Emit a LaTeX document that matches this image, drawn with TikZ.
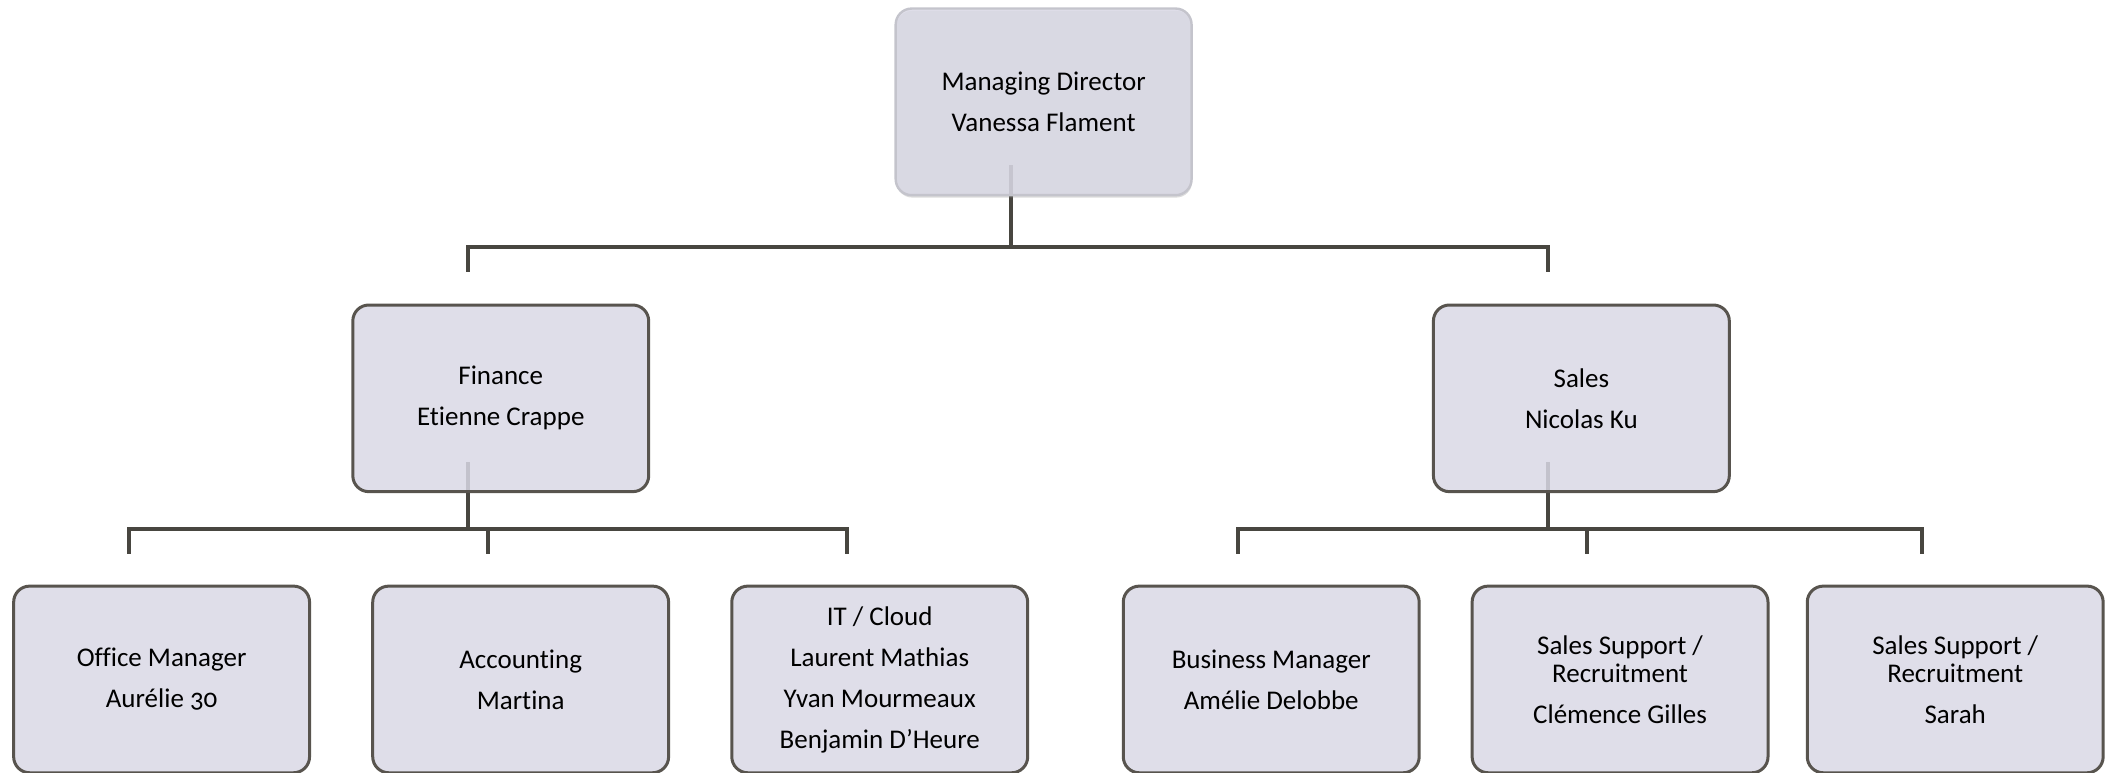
\documentclass[tikz,border=0pt]{standalone}
\usepackage{fontspec}
\setmainfont{Carlito}[Numbers=OldStyle, Ligatures=NoCommon]
\definecolor{boxfill}{RGB}{217, 216, 229}
\definecolor{boxline}{RGB}{88, 84, 78}
\definecolor{mdline}{RGB}{196, 196, 204}
\definecolor{linkgray}{RGB}{72, 70, 64}
\usetikzlibrary{positioning, calc, shadows, backgrounds}

\tikzset{
  unit/.style={draw=boxline, line width=1.5pt, fill=boxfill, fill opacity=0.85, text opacity=1,
    rounded corners=8pt, minimum width=5.2cm, minimum height=3.28cm, align=center,
    font=\fontsize{13.5}{14}\selectfont},
  topunit/.style={draw=mdline, line width=1.2pt,
    drop shadow={shadow xshift=0.3pt, shadow yshift=-1.2pt, opacity=0.3, fill=black!45}},
  link/.style={draw=linkgray, line width=2pt}
}

\begin{document}
\begin{tikzpicture}
  \useasboundingbox (0,0) rectangle (37.08,-13.584);

  % Director
  \node[unit, topunit] (md) at (18.34, -1.79) {Managing Director\\[6.5pt]Vanessa Flament};

  % Departments
  \node[unit] (fin) at (8.80, -7.0) {Finance\\[6.5pt]Etienne Crappe};
  \node[unit] (sales) at (27.79, -7.0) {Sales\\[6.5pt]Nicolas Ku};

  % Finance team
  \node[unit] (office) at (2.84, -11.94) {Office Manager\\[6.5pt]Aurélie 30};
  \node[unit] (acc) at (9.15, -11.94) {Accounting\\[6.5pt]Martina};
  \node[unit] (it) at (15.46, -11.94) {IT / Cloud\\[6.5pt]Laurent Mathias\\[6.5pt]Yvan Mourmeaux\\[6.5pt]Benjamin D’Heure};

  % Sales team
  \node[unit] (bm) at (22.34, -11.94) {Business Manager\\[6.5pt]Amélie Delobbe};
  \node[unit] (ss1) at (28.47, -11.94) {Sales Support /\\Recruitment\\[6.5pt]Clémence Gilles};
  \node[unit] (ss2) at (34.36, -11.94) {Sales Support /\\Recruitment\\[6.5pt]Sarah};

  % Connectors (behind the boxes)
  \begin{pgfonlayer}{background}
    \draw[link] ([xshift=-5.8mm, yshift=5.45mm]md.south) -- ++(0,-1.43) coordinate (mdbus);
    \foreach \dept in {fin, sales}
      \draw[link] (mdbus) -| ([xshift=-5.8mm, yshift=5.45mm]\dept.north);

    \draw[link] ([xshift=-5.8mm, yshift=5.45mm]fin.south) -- ++(0,-1.17) coordinate (finbus);
    \foreach \team in {office, acc, it}
      \draw[link] (finbus) -| ([xshift=-5.8mm, yshift=5.45mm]\team.north);

    \draw[link] ([xshift=-5.8mm, yshift=5.45mm]sales.south) -- ++(0,-1.17) coordinate (salesbus);
    \foreach \team in {bm, ss1, ss2}
      \draw[link] (salesbus) -| ([xshift=-5.8mm, yshift=5.45mm]\team.north);
  \end{pgfonlayer}
\end{tikzpicture}
\end{document}
